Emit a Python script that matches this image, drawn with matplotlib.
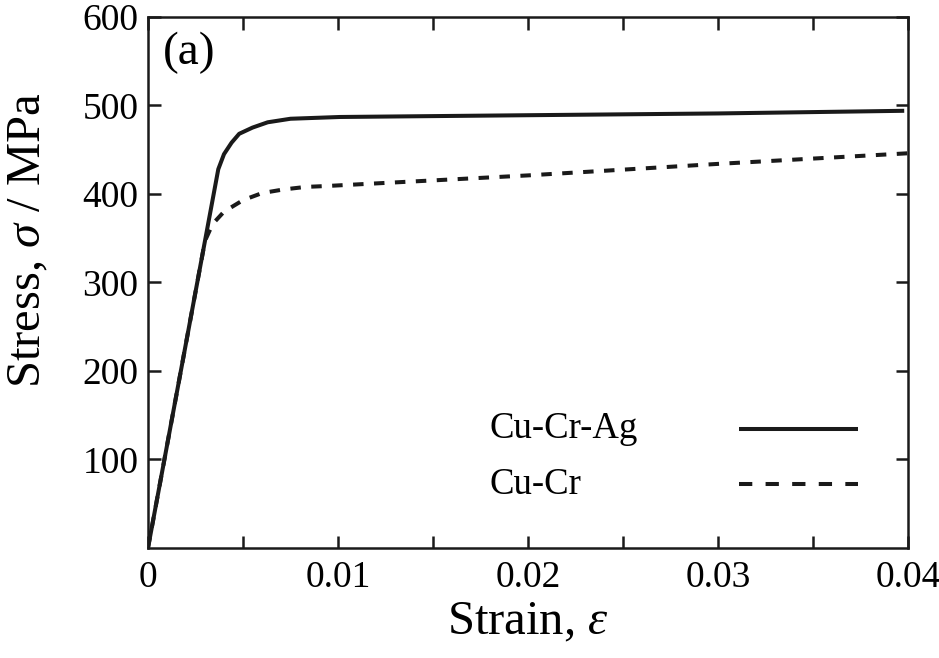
import matplotlib
matplotlib.use("Agg")
import matplotlib.pyplot as plt
from matplotlib.lines import Line2D
from matplotlib.ticker import MultipleLocator

plt.rcParams['font.family'] = ['Liberation Serif', 'DejaVu Serif']
plt.rcParams['mathtext.fontset'] = 'custom'
plt.rcParams['mathtext.rm'] = 'Liberation Serif'
plt.rcParams['mathtext.it'] = 'Liberation Serif:italic'

# stress-strain curves
strain_ag = [0, 0.0037, 0.0040, 0.0044, 0.0048, 0.0055, 0.0063, 0.0075, 0.0101, 0.020, 0.030, 0.0398]
stress_ag = [0, 428, 445, 458, 468, 475, 481, 485, 487, 489, 491, 494]

strain_cr = [0, 0.0030, 0.0034, 0.0040, 0.0050, 0.0060, 0.0071, 0.0083, 0.0094, 0.020, 0.030, 0.040]
stress_cr = [0, 347, 366, 380, 393, 401, 405, 408, 409, 421, 434, 446]

labels = ["Cu-Cr-Ag", "Cu-Cr"]
x_ticks = [0, 0.01, 0.02, 0.03, 0.04]
x_ticklabels = ["0", "0.01", "0.02", "0.03", "0.04"]
y_ticks = [100, 200, 300, 400, 500, 600]

fig = plt.figure(figsize=(9.39, 6.58), dpi=100)
ax = fig.add_axes([0.1576, 0.1672, 0.8094, 0.8070])

lw = 2.9
ax.plot(strain_ag, stress_ag, color='#1a1a1a', lw=lw, solid_capstyle='butt')
ax.plot(strain_cr, stress_cr, color='#1a1a1a', lw=lw, dashes=(2.6, 2.6))

ax.set_xlim(0, 0.04)
ax.set_ylim(0, 600)
ax.xaxis.set_minor_locator(MultipleLocator(0.005))
ax.set_xticks(x_ticks)
ax.set_xticklabels(x_ticklabels)
ax.set_yticks(y_ticks)

for s in ax.spines.values():
    s.set_linewidth(1.8)
    s.set_color('#1a1a1a')
ax.tick_params(which='both', direction='in', top=True, right=True,
               length=9, width=1.8, color='#1a1a1a', labelsize=27)
ax.tick_params(axis='x', pad=9)
ax.tick_params(axis='y', pad=7)

ax.set_xlabel(r"Strain, $\varepsilon$", fontsize=35, labelpad=4)
ax.set_ylabel(r"Stress, $\sigma$ / MPa", fontsize=35)
ax.yaxis.set_label_coords(-0.128, 0.58)

ax.text(0.02, 0.972, "(a)", transform=ax.transAxes, fontsize=34,
        va='top', ha='left')

# legend drawn by hand: labels left aligned, samples on the right
rows = [(0.225, '-', None), (0.12, '--', (3.3, 3.3))]
for lab, (yy, ls, dsh) in zip(labels, rows):
    ax.text(0.45, yy, lab, transform=ax.transAxes, fontsize=26.5,
            va='center', ha='left')
    ln = Line2D([0.777, 0.934], [yy, yy], transform=ax.transAxes,
                color='#1a1a1a', lw=lw, solid_capstyle='butt')
    if dsh:
        ln.set_dashes(dsh)
    ax.add_line(ln)

fig.savefig("out.png", dpi=100)
